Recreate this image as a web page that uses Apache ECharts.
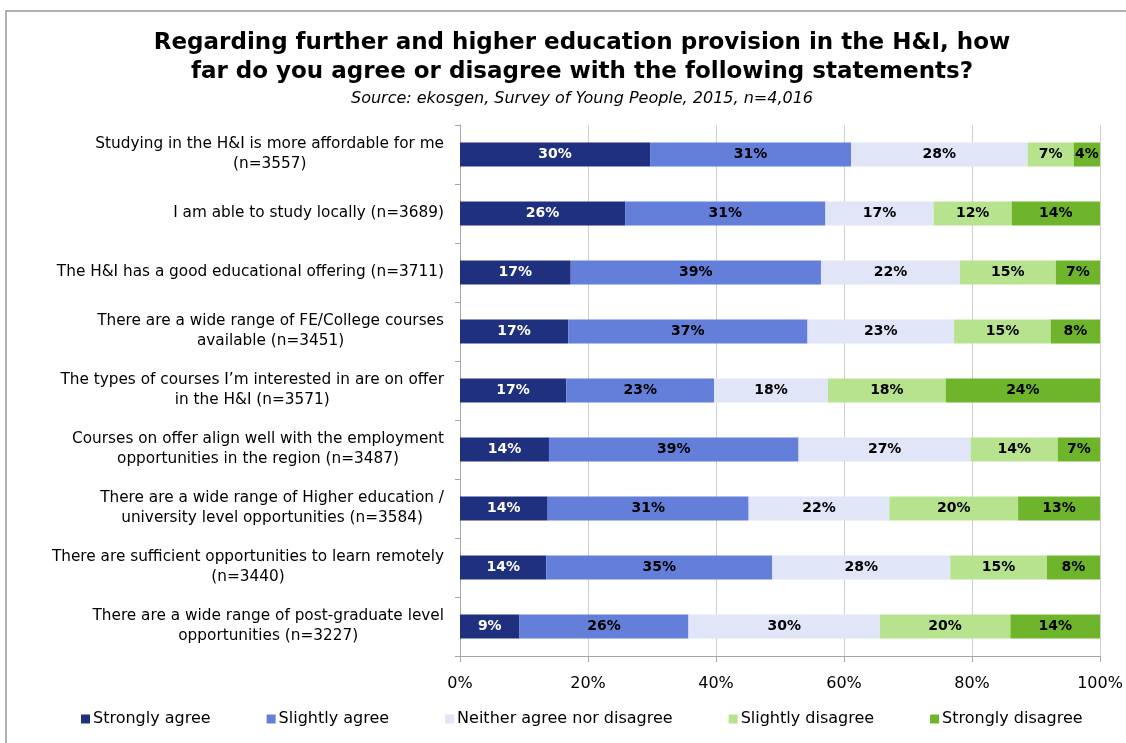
<!DOCTYPE html>
<html>
<head>
<meta charset="utf-8">
<title>Further and higher education provision in the H&amp;I</title>
<script src="https://cdn.jsdelivr.net/npm/echarts@6/dist/echarts.min.js"></script>
<style>
  html, body { margin: 0; padding: 0; background: #ffffff; }
  #chart { width: 1126px; height: 743px; }
</style>
</head>
<body>
<div id="chart"></div>
<script>
// Survey statements (top to bottom)
const statements = [
  'Studying in the H&I is more affordable for me\n(n=3557)',
  'I am able to study locally (n=3689)',
  'The H&I has a good educational offering (n=3711)',
  'There are a wide range of FE/College courses\navailable (n=3451)',
  'The types of courses I\u2019m interested in are on offer\nin the H&I (n=3571)',
  'Courses on offer align well with the employment\nopportunities in the region (n=3487)',
  'There are a wide range of Higher education /\nuniversity level opportunities (n=3584)',
  'There are sufficient opportunities to learn remotely\n(n=3440)',
  'There are a wide range of post-graduate level\nopportunities (n=3227)'
];

// Share of respondents (%) for each response, one value per statement
const stronglyAgree    = [29.7, 25.8, 17.3, 16.9, 16.6, 13.9, 13.7, 13.5, 9.3];
const slightlyAgree    = [31.4, 31.3, 39.1, 37.4, 23.1, 39.0, 31.4, 35.3, 26.4];
const neitherAgree     = [27.6, 16.9, 21.7, 22.9, 17.8, 26.9, 22.0, 27.8, 29.9];
const slightlyDisagree = [7.2, 12.2, 15.0, 15.1, 18.4, 13.6, 20.1, 15.1, 20.4];
const stronglyDisagree = [4.1, 13.8, 6.9, 7.7, 24.1, 6.6, 12.8, 8.3, 14.0];

const responseNames = [
  'Strongly agree',
  'Slightly agree',
  'Neither agree nor disagree',
  'Slightly disagree',
  'Strongly disagree'
];
const responseValues = [stronglyAgree, slightlyAgree, neitherAgree, slightlyDisagree, stronglyDisagree];
const responseColors = ['#1f307e', '#637fda', '#e0e5f7', '#b8e38e', '#6fb52b'];
const labelColors = ['#ffffff', '#000000', '#000000', '#000000', '#000000'];

const FONT = 'DejaVu Sans';

const chart = echarts.init(document.getElementById('chart'), null, { renderer: 'canvas' });

const series = responseNames.map((name, i) => ({
  name: name,
  type: 'bar',
  stack: 'total',
  barWidth: 24,
  data: responseValues[i],
  itemStyle: { color: responseColors[i] },
  label: {
    show: true,
    position: 'inside',
    color: labelColors[i],
    fontFamily: FONT,
    fontWeight: 'bold',
    fontSize: 14,
    formatter: p => Math.round(p.value) + '%'
  },
  emphasis: { disabled: true }
}));

chart.setOption({
  animation: false,
  backgroundColor: '#ffffff',
  textStyle: { fontFamily: FONT },
  graphic: [{
    type: 'rect',
    shape: { x: 6, y: 11, width: 1130, height: 740 },
    style: { fill: 'none', stroke: '#9a9a9a', lineWidth: 1.5 },
    silent: true,
    z: -10
  }],
  title: {
    text: 'Regarding further and higher education provision in the H&I, how\nfar do you agree or disagree with the following statements?',
    subtext: 'Source: ekosgen, Survey of Young People, 2015, n=4,016',
    left: 577,
    textAlign: 'center',
    top: 24,
    itemGap: 3,
    textStyle: {
      fontFamily: FONT,
      fontSize: 23,
      fontWeight: 'bold',
      color: '#000000',
      lineHeight: 29
    },
    subtextStyle: {
      fontFamily: FONT,
      fontSize: 16,
      fontStyle: 'italic',
      color: '#000000',
      lineHeight: 18
    }
  },
  legend: {
    data: responseNames,
    left: 76,
    top: 706,
    icon: 'rect',
    itemWidth: 9,
    itemHeight: 9,
    itemGap: 56,
    textStyle: { fontFamily: FONT, fontSize: 16, color: '#000000', padding: [0, 0, 0, -2] },
    selectedMode: false
  },
  grid: {
    left: 460,
    right: 26,
    top: 125,
    bottom: 87,
    containLabel: false
  },
  xAxis: {
    type: 'value',
    min: 0,
    max: 100,
    interval: 20,
    axisLine: { show: true, lineStyle: { color: '#a6a6a6', width: 1 } },
    axisTick: { show: true, length: 6, lineStyle: { color: '#a6a6a6' } },
    axisLabel: {
      formatter: '{value}%',
      fontFamily: FONT,
      fontSize: 16,
      color: '#000000',
      margin: 20
    },
    splitLine: { show: true, lineStyle: { color: '#cfcfcf', width: 1 } }
  },
  yAxis: {
    type: 'category',
    inverse: true,
    data: statements,
    axisLine: { show: true, lineStyle: { color: '#a6a6a6', width: 1 } },
    axisTick: { show: true, length: 5, lineStyle: { color: '#a6a6a6' } },
    axisLabel: {
      margin: 16,
      align: 'right',
      formatter: v => v.split('\n').map(s => '{c|' + s + '}').join('\n'),
      rich: {
        c: {
          align: 'center',
          fontFamily: FONT,
          fontSize: 15.3,
          lineHeight: 20,
          color: '#000000'
        }
      }
    }
  },
  series: series
});
</script>
</body>
</html>
